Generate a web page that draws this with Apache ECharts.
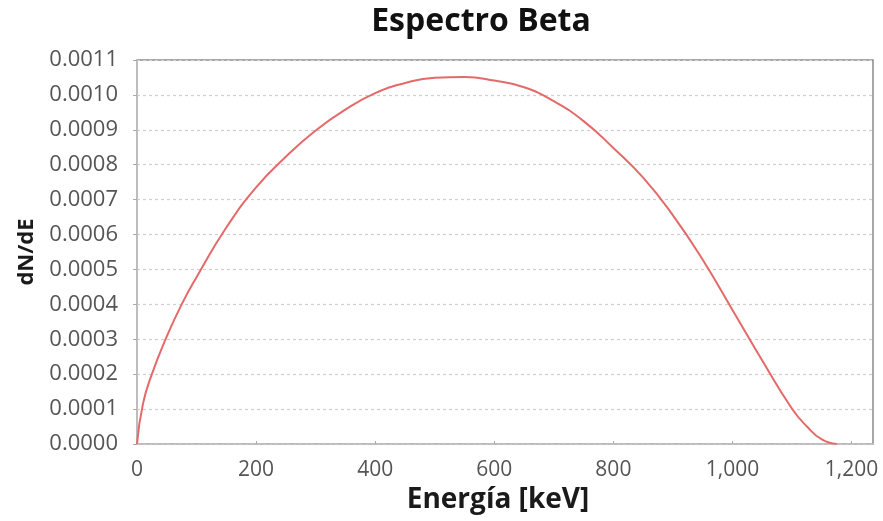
<!DOCTYPE html>
<html>
<head>
<meta charset="utf-8">
<script src="https://cdn.jsdelivr.net/npm/echarts@6/dist/echarts.min.js"></script>
<style>html,body{margin:0;padding:0;background:#fff}#c{width:883px;height:521px}</style>
</head>
<body>
<div id="c"></div>
<script>
const energy = [0, 10, 25, 50, 75, 100, 150, 200, 250, 300, 350, 400, 450, 500, 550, 600, 650, 700, 750, 800, 850, 900, 950, 1000, 1050, 1100, 1125, 1150, 1175];
const dNdE = [0, 0.000115, 0.0002, 0.000308, 0.0004, 0.000478, 0.00062, 0.000735, 0.000823, 0.000898, 0.000958, 0.001005, 0.001034, 0.001049, 0.001051, 0.001041, 0.001022, 0.000982, 0.000925, 0.000848, 0.000763, 0.000655, 0.000528, 0.000384, 0.000239, 0.000101, 0.00005, 0.000013, 0];
const xTicks = [0, 200, 400, 600, 800, 1000, 1200];
const titleText = 'Espectro Beta';
const xName = 'Energía [keV]';
const yName = 'dN/dE';

const chart = echarts.init(document.getElementById('c'), null, {renderer: 'canvas'});
const font = '"Open Sans", "Noto Sans", sans-serif';
chart.setOption({
  animation: false,
  backgroundColor: '#fff',
  title: {
    text: titleText, left: 476, top: 1, textAlign: 'center',
    textStyle: {fontFamily: font, fontSize: 32, fontWeight: 'bold', color: '#111'}
  },
  grid: {left: 137, right: 10, top: 60, bottom: 77, show: true, borderColor: '#8a8a8a', borderWidth: 1.5, containLabel: false},
  xAxis: {
    type: 'value', min: 0, max: 1236, interval: 200, offset: 8,
    name: xName, nameLocation: 'middle', nameGap: 31,
    nameTextStyle: {fontFamily: font, fontSize: 28, fontWeight: 'bold', color: '#1a1a1a', padding: [0, 14, 0, 0]},
    axisLine: {show: true, lineStyle: {color: '#c4c4c4', width: 1.5}},
    axisTick: {show: true, inside: true, length: 3, lineStyle: {color: '#aaa'}, customValues: xTicks},
    axisLabel: {fontFamily: font, fontSize: 21, color: '#555', margin: 8, customValues: xTicks,
      formatter: v => Number(v).toLocaleString('en-US')},
    splitLine: {show: false}
  },
  yAxis: {
    type: 'value', min: 0, max: 0.0011, interval: 0.0001, offset: 7,
    name: yName, nameLocation: 'middle', nameGap: 92, nameRotate: 90,
    nameTextStyle: {fontFamily: font, fontSize: 22, fontWeight: 'bold', color: '#1a1a1a'},
    axisLine: {show: true, lineStyle: {color: '#c4c4c4', width: 1.5}},
    axisTick: {show: true, length: 4, lineStyle: {color: '#aaa'}},
    axisLabel: {fontFamily: font, fontSize: 22, color: '#555', margin: 12,
      formatter: v => Number(v).toFixed(4)},
    splitLine: {show: true, lineStyle: {color: '#d0d0d0', type: [3, 3], width: 1.2}}
  },
  series: [{
    type: 'line', smooth: 0.5, showSymbol: false,
    data: energy.map((e, i) => [e, dNdE[i]]),
    lineStyle: {color: '#e46a6a', width: 2}
  }]
});
</script>
</body>
</html>
